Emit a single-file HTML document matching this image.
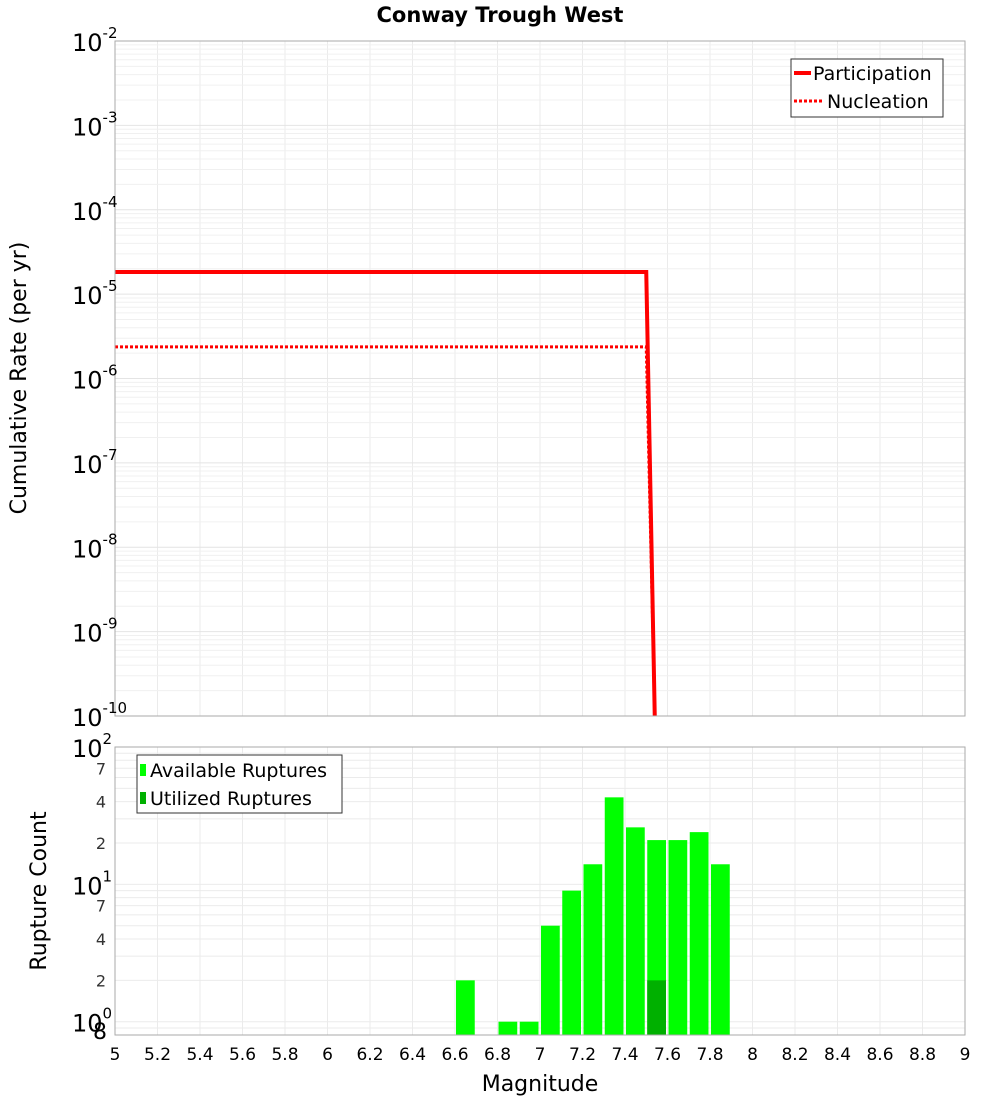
<!DOCTYPE html>
<html><head><meta charset="utf-8"><style>
body{margin:0;background:#fff}
svg{display:block;font-family:"DejaVu Sans","Liberation Sans",sans-serif}
</style></head><body>
<svg id="c" width="1000" height="1100" xmlns="http://www.w3.org/2000/svg">
<text x="500" y="22" text-anchor="middle" font-size="21" font-weight="bold">Conway Trough West</text>
<text transform="translate(26,378) rotate(-90)" text-anchor="middle" font-size="22">Cumulative Rate (per yr)</text>
<text transform="translate(46,891) rotate(-90)" text-anchor="middle" font-size="22">Rupture Count</text>
<text x="540" y="1091" text-anchor="middle" font-size="22">Magnitude</text>
<g id="grid"></g><g id="marks"></g><g id="axes"></g>
</svg>
<script>
const curveMags=[5.0,7.5,7.54];
const participation=[1.83e-5,1.83e-5,1e-10];
const nucleation=[2.37e-6,2.37e-6,1e-10];
const binMags=[6.6,6.8,6.9,7.0,7.1,7.2,7.3,7.4,7.5,7.6,7.7,7.8];
const available=[2,1,1,5,9,14,43,26,21,21,24,14];
const utilizedMags=[7.5];
const utilized=[2];
const xTicks=[5,5.2,5.4,5.6,5.8,6,6.2,6.4,6.6,6.8,7,7.2,7.4,7.6,7.8,8,8.2,8.4,8.6,8.8,9];
const topExps=[-2,-3,-4,-5,-6,-7,-8,-9,-10];

const NS="http://www.w3.org/2000/svg";
const L=115,R=965,T1=41,B1=716,T2=747,B2=1035;
const X=m=>L+(m-5)/4*(R-L);
const Y1=v=>T1+(-2-Math.log10(v))/8*(B1-T1);
const lo2=Math.log10(0.8),hi2=2;
const Y2=v=>B2-(Math.log10(v)-lo2)/(hi2-lo2)*(B2-T2);
function mk(p,tag,a,name,txt){const e=document.createElementNS(NS,tag);for(const k in a)e.setAttribute(k,a[k]);


if(txt!==undefined)e.textContent=txt;p.appendChild(e);return e;}
const g=document.getElementById('grid'),m=document.getElementById('marks'),ax=document.getElementById('axes');
// grids
for(const t of xTicks){mk(g,'line',{x1:X(t),x2:X(t),y1:T1,y2:B1,stroke:'#ebebeb'},'top-x-grid');mk(g,'line',{x1:X(t),x2:X(t),y1:T2,y2:B2,stroke:'#ebebeb'},'bottom-x-grid');}
for(let e=-10;e<-2;e++)for(let k=1;k<10;k++){const y=Y1(k*Math.pow(10,e));mk(g,'line',{x1:L,x2:R,y1:y,y2:y,stroke:k==1?'#e4e4e4':'#f0f0f0'},'top-y-grid');}
for(let e=-1;e<2;e++)for(let k=1;k<10;k++){const v=k*Math.pow(10,e);if(v<0.8)continue;const y=Y2(v);mk(g,'line',{x1:L,x2:R,y1:y,y2:y,stroke:'#ebebeb'},'bottom-y-grid');}
// curves
const pts=(arr)=>curveMags.map((mg,i)=>X(mg)+','+Y1(arr[i])).join(' ');
mk(m,'polyline',{points:pts(participation),fill:'none',stroke:'#ff0000','stroke-width':4},'participation-line');
mk(m,'polyline',{points:pts(nucleation),fill:'none',stroke:'#ff0000','stroke-width':3,'stroke-dasharray':'3,2'},'nucleation-line');
// bars
const bw=(R-L)/40;
binMags.forEach((mg,i)=>{mk(m,'rect',{x:X(mg)+1,y:Y2(available[i]),width:bw-2.5,height:B2-Y2(available[i]),fill:'#00ff00'},'available-bar');});
utilizedMags.forEach((mg,i)=>{mk(m,'rect',{x:X(mg)+1,y:Y2(utilized[i]),width:bw-2.5,height:B2-Y2(utilized[i]),fill:'#00b000'},'utilized-bar');});
// frames
mk(ax,'rect',{x:L,y:T1,width:R-L,height:B1-T1,fill:'none',stroke:'#aaa'},'top-plot-frame');
mk(ax,'rect',{x:L,y:T2,width:R-L,height:B2-T2,fill:'none',stroke:'#aaa'},'bottom-plot-frame');
// x ticks
for(const t of xTicks)mk(ax,'text',{x:X(t),y:1060,'text-anchor':'middle','font-size':17},'x-tick-label',String(t));
// top y ticks
for(const e of topExps){const y=Y1(Math.pow(10,e));const tx=mk(ax,'text',{x:72,y:y+10,'font-size':24},'top-y-tick-label','10');
const s=document.createElementNS(NS,'tspan');s.setAttribute('dy','-13');s.setAttribute('font-size','15');s.textContent=String(e);tx.appendChild(s);}
// bottom y ticks
[[100,'2'],[10,'1'],[1,'0']].forEach(([v,ex])=>{const y=Y2(v);const tx=mk(ax,'text',{x:72,y:y+10,'font-size':24},'bottom-y-tick-label','10');
const s=document.createElementNS(NS,'tspan');s.setAttribute('dy','-13');s.setAttribute('font-size','15');s.textContent=ex;tx.appendChild(s);});
[[70,'7'],[40,'4'],[20,'2'],[7,'7'],[4,'4'],[2,'2'],[0.8,'8']].forEach(([v,l])=>{mk(ax,'text',{x:v==0.8?107:106,y:Y2(v)+(v==0.8?4:6),'text-anchor':'end','font-size':v==0.8?22:16,fill:v==0.8?'#000':'#333'},'bottom-y-minor-label',l);});
// legends
const lg1=mk(ax,'g',{},'top-legend');
mk(lg1,'rect',{x:791,y:59,width:152,height:58,fill:'#fff',stroke:'#333'},'top-legend-box');
mk(lg1,'line',{x1:794,x2:811,y1:73,y2:73,stroke:'#f00','stroke-width':4},'legend-participation-swatch');
mk(lg1,'text',{x:813,y:80,'font-size':19},'legend-participation-label','Participation');
mk(lg1,'line',{x1:794,x2:822,y1:101,y2:101,stroke:'#f00','stroke-width':3,'stroke-dasharray':'3,2'},'legend-nucleation-swatch');
mk(lg1,'text',{x:827,y:108,'font-size':19},'legend-nucleation-label','Nucleation');
const lg2=mk(ax,'g',{},'bottom-legend');
mk(lg2,'rect',{x:137,y:755,width:205,height:58,fill:'#fff',stroke:'#333'},'bottom-legend-box');
mk(lg2,'rect',{x:140,y:764,width:6,height:12,fill:'#00ff00'},'legend-available-swatch');
mk(lg2,'text',{x:150,y:777,'font-size':19},'legend-available-label','Available Ruptures');
mk(lg2,'rect',{x:140,y:792,width:6,height:12,fill:'#00b000'},'legend-utilized-swatch');
mk(lg2,'text',{x:150,y:805,'font-size':19},'legend-utilized-label','Utilized Ruptures');
</script>
</body></html>
